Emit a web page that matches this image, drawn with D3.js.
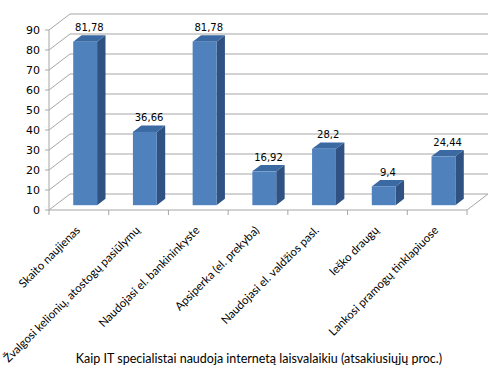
<!DOCTYPE html>
<html>
<head>
<meta charset="utf-8">
<script src="https://cdn.jsdelivr.net/npm/d3@7"></script>
<style>
  body { margin: 0; background: #fff; }
  #chart { width: 500px; height: 377px; }
  .tick-lbl { font-family: "DejaVu Sans", Verdana, sans-serif; font-size: 11px; fill: #000; }
  .val-lbl { font-family: "DejaVu Sans", Verdana, sans-serif; font-size: 10px; fill: #000; }
  .cat-lbl { font-family: Lato, "Open Sans", sans-serif; font-size: 11.5px; fill: #000; }
  .title { font-family: Lato, "Open Sans", sans-serif; font-size: 12.5px; fill: #000; }
</style>
</head>
<body>
<div id="chart"></div>
<script>
(function () {
    /* ----------------------- Data ----------------------- */
    const categories = [
        "Skaito naujienas",
        "Žvalgosi kelionių, atostogų pasiūlymų",
        "Naudojasi el. bankininkyste",
        "Apsiperka (el. prekyba)",
        "Naudojasi el. valdžios pasl.",
        "Ieško draugų",
        "Lankosi pramogų tinklapiuose"
    ];
    const values = [81.78, 36.66, 81.78, 16.92, 28.2, 9.4, 24.44];
    const valueLabels = ["81,78", "36,66", "81,78", "16,92", "28,2", "9,4", "24,44"];
    const yTicks = [0, 10, 20, 30, 40, 50, 60, 70, 80, 90];
    const chartTitle = "Kaip IT specialistai naudoja internetą laisvalaikiu (atsakiusiųjų proc.)";

    /* ----------------------- Dimensions ----------------------- */
    const width = 500, height = 377;
    const depth = { dx: 21, dy: -16 };   // 3d offset from front plane to back wall

    const svg = d3.select("#chart")
        .append("svg")
        .attr("width", width)
        .attr("height", height);

    const x = d3.scaleBand().domain(categories).range([49, 467]).padding(0);
    const y = d3.scaleLinear().domain([0, 90]).range([210, 30]);

    // project a point on the front plane back by fraction d of the depth
    const px = (xv, d) => xv + d * depth.dx;
    const py = (v, d) => y(v) + d * depth.dy;

    const gridColor = "#a6a6a6";

    /* ----------------------- Walls & gridlines ----------------------- */
    const grid = svg.append("g");

    // back wall horizontal gridlines
    grid.selectAll(".back-grid")
        .data(yTicks)
        .enter()
        .append("line")
        .attr("x1", px(x.range()[0], 1))
        .attr("x2", px(x.range()[1], 1))
        .attr("y1", (d) => py(d, 1))
        .attr("y2", (d) => py(d, 1))
        .attr("stroke", gridColor)
        .attr("stroke-width", 1);

    // side wall diagonals
    grid.selectAll(".side-grid")
        .data(yTicks)
        .enter()
        .append("line")
        .attr("x1", px(x.range()[0], 0))
        .attr("x2", px(x.range()[0], 1))
        .attr("y1", (d) => py(d, 0))
        .attr("y2", (d) => py(d, 1))
        .attr("stroke", gridColor)
        .attr("stroke-width", 1);

    // floor right edge
    grid.append("line")
        .attr("x1", px(x.range()[1], 0))
        .attr("x2", px(x.range()[1], 1))
        .attr("y1", py(0, 0))
        .attr("y2", py(0, 1))
        .attr("stroke", gridColor);

    // front vertical axis line
    grid.append("line")
        .attr("x1", x.range()[0]).attr("x2", x.range()[0])
        .attr("y1", y(90)).attr("y2", y(0))
        .attr("stroke", gridColor);

    // y ticks
    grid.selectAll(".ytick")
        .data(yTicks)
        .enter()
        .append("line")
        .attr("x1", x.range()[0] - 4)
        .attr("x2", x.range()[0])
        .attr("y1", (d) => y(d))
        .attr("y2", (d) => y(d))
        .attr("stroke", gridColor);

    svg.selectAll(".ylbl")
        .data(yTicks)
        .enter()
        .append("text")
        .attr("class", "tick-lbl")
        .attr("x", x.range()[0] - 9)
        .attr("y", (d) => y(d))
        .attr("dy", "0.35em")
        .attr("text-anchor", "end")
        .text((d) => d);

    // front floor edge with category ticks
    grid.append("line")
        .attr("x1", x.range()[0]).attr("x2", x.range()[1])
        .attr("y1", y(0)).attr("y2", y(0))
        .attr("stroke", gridColor);

    const boundaries = categories.map((c) => x(c)).concat([x.range()[1]]);
    grid.selectAll(".xtick")
        .data(boundaries)
        .enter()
        .append("line")
        .attr("x1", (d) => d).attr("x2", (d) => d)
        .attr("y1", y(0)).attr("y2", y(0) + 5)
        .attr("stroke", gridColor);

    /* ----------------------- Bars ----------------------- */
    const d0 = 0.3, d1 = 0.7;
    const barW = x.bandwidth() * 0.4;
    const barData = categories.map((c, i) => ({ cat: c, value: values[i], label: valueLabels[i] }));

    const bars = svg.selectAll(".bar")
        .data(barData)
        .enter()
        .append("g")
        .attr("class", "bar");

    const bx = (d) => x(d.cat) + (x.bandwidth() - barW) / 2;

    // side face
    bars.append("path")
        .attr("d", (d) => {
            const xr = bx(d) + barW;
            return `M${px(xr, d0)},${py(0, d0)} L${px(xr, d1)},${py(0, d1)} L${px(xr, d1)},${py(d.value, d1)} L${px(xr, d0)},${py(d.value, d0)} Z`;
        })
        .attr("fill", "#2f5282");

    // top face
    bars.append("path")
        .attr("d", (d) => {
            const xl = bx(d), xr = xl + barW;
            return `M${px(xl, d0)},${py(d.value, d0)} L${px(xr, d0)},${py(d.value, d0)} L${px(xr, d1)},${py(d.value, d1)} L${px(xl, d1)},${py(d.value, d1)} Z`;
        })
        .attr("fill", "#3b6aa3");

    // front face
    bars.append("rect")
        .attr("x", (d) => px(bx(d), d0))
        .attr("y", (d) => py(d.value, d0))
        .attr("width", barW)
        .attr("height", (d) => py(0, d0) - py(d.value, d0))
        .attr("fill", "#4f81bd");

    // value labels
    bars.append("text")
        .attr("class", "val-lbl")
        .attr("x", (d) => px(bx(d) + barW / 2, 0.5))
        .attr("y", (d) => py(d.value, d1) - 4)
        .attr("text-anchor", "middle")
        .text((d) => d.label);

    /* ----------------------- Category labels ----------------------- */
    svg.selectAll(".cat-lbl")
        .data(categories)
        .enter()
        .append("text")
        .attr("class", "cat-lbl")
        .attr("text-anchor", "end")
        .attr("transform", (d) => `translate(${x(d) + x.bandwidth() / 2 + 2},${y(0) + 21}) rotate(-45)`)
        .text((d) => d);

    /* ----------------------- Title ----------------------- */
    svg.append("text")
        .attr("class", "title")
        .attr("x", 259)
        .attr("y", 363)
        .attr("text-anchor", "middle")
        .text(chartTitle);
})();
</script>
</body>
</html>
